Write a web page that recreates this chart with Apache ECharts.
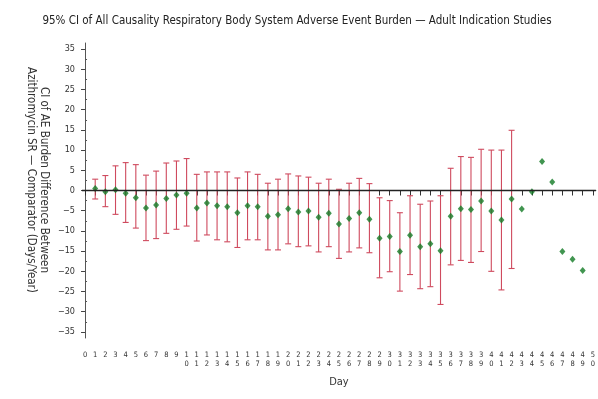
<!DOCTYPE html>
<html>
<head>
<meta charset="utf-8">
<script src="https://cdn.jsdelivr.net/npm/echarts@6/dist/echarts.min.js"></script>
<style>
  html, body { margin: 0; padding: 0; background: #fff; }
  #chart { width: 598px; height: 399px; }
</style>
</head>
<body>
<div id="chart"></div>
<script>
// Study day of each estimate
const days = [1, 2, 3, 4, 5, 6, 7, 8, 9, 10, 11, 12, 13, 14, 15, 16, 17, 18, 19, 20,
  21, 22, 23, 24, 25, 26, 27, 28, 29, 30, 31, 32, 33, 34, 35, 36, 37, 38, 39, 40,
  41, 42, 43, 44, 45, 46, 47, 48, 49];

// Point estimate of the burden difference (days/year)
const estimate = [0.5, -0.3, 0.2, -0.7, -1.8, -4.3, -3.6, -2.0, -1.1, -0.7,
  -4.3, -3.1, -3.8, -4.0, -5.5, -3.8, -4.0, -6.4, -6.0, -4.5,
  -5.3, -5.1, -6.6, -5.6, -8.3, -6.9, -5.5, -7.1, -11.8, -11.4,
  -15.1, -11.1, -13.9, -13.2, -14.9, -6.4, -4.5, -4.7, -2.6, -5.1,
  -7.3, -2.1, -4.6, -0.3, 7.2, 2.1, -15.1, -17.0, -19.8];

// 95% CI bounds (available for days 1-42)
const lower = [-2.1, -4.0, -5.9, -7.9, -9.3, -12.4, -11.9, -10.6, -9.6, -8.8,
  -12.5, -11.0, -12.2, -12.7, -14.1, -12.2, -12.2, -14.7, -14.7, -13.2,
  -13.9, -13.7, -15.2, -13.9, -16.8, -15.2, -14.2, -15.4, -21.6, -20.1,
  -24.9, -20.8, -24.3, -23.8, -28.2, -18.4, -17.3, -17.8, -15.1, -20.0,
  -24.6, -19.3];
const upper = [2.8, 3.7, 6.1, 6.9, 6.4, 3.8, 4.8, 6.8, 7.3, 7.9,
  4.0, 4.6, 4.6, 4.6, 3.1, 4.6, 4.0, 1.8, 2.8, 4.1,
  3.6, 3.3, 1.8, 2.8, 0.3, 1.8, 3.0, 1.7, -1.8, -2.5,
  -5.5, -1.3, -3.4, -2.6, -1.3, 5.5, 8.4, 8.2, 10.2, 10.0,
  10.0, 14.9];

// Axis tick positions
const dayTicks = [0, 1, 2, 3, 4, 5, 6, 7, 8, 9, 10, 11, 12, 13, 14, 15, 16, 17, 18, 19, 20,
  21, 22, 23, 24, 25, 26, 27, 28, 29, 30, 31, 32, 33, 34, 35, 36, 37, 38, 39, 40,
  41, 42, 43, 44, 45, 46, 47, 48, 49, 50];
const yMajorTicks = [-35, -30, -25, -20, -15, -10, -5, 0, 5, 10, 15, 20, 25, 30, 35];
const yMinorTicks = [-32.5, -27.5, -22.5, -17.5, -12.5, -7.5, -2.5, 2.5, 7.5, 12.5, 17.5, 22.5, 27.5, 32.5];

const FONT = '"Liberation Sans Narrow", "DejaVu Sans Condensed", "Liberation Sans", sans-serif';

const pointData = days.map((d, i) => [d, estimate[i]]);
const ciData = lower.map((lo, i) => [days[i], lo, upper[i]]);

const chart = echarts.init(document.getElementById('chart'), null, { renderer: 'canvas' });

chart.setOption({
  animation: false,
  backgroundColor: '#ffffff',
  title: {
    text: '95% CI of All Causality Respiratory Body System Adverse Event Burden \u2014 Adult Indication Studies',
    left: 292,
    textAlign: 'center',
    top: 10,
    textStyle: { fontFamily: FONT, fontSize: 11.5, fontWeight: 'normal', color: '#222' }
  },
  grid: { left: 82, right: 0, top: 43, bottom: 61 },
  xAxis: [
    {
      type: 'value',
      position: 'bottom',
      min: -0.3,
      max: 50.3,
      offset: 3,
      name: 'Day',
      nameLocation: 'middle',
      nameGap: 36,
      nameTextStyle: { fontFamily: FONT, fontSize: 11, color: '#333' },
      axisLine: { show: false },
      splitLine: { show: false },
      axisTick: {
        show: true, length: 5, customValues: dayTicks,
        lineStyle: { color: '#333', width: 1 }
      },
      axisLabel: {
        customValues: dayTicks,
        margin: 9,
        fontFamily: FONT,
        fontSize: 7.5,
        lineHeight: 9.5,
        color: '#333',
        formatter: v => String(v).split('').join('\n')
      }
    },
    {
      type: 'value',
      position: 'top',
      min: -0.3,
      max: 50.3,
      axisLine: { show: true, lineStyle: { color: '#666', width: 1 } },
      axisTick: { show: false },
      axisLabel: { show: false },
      splitLine: { show: false }
    }
  ],
  yAxis: [
    {
      type: 'value',
      min: -36.5,
      max: 36.5,
      axisLine: { show: true, lineStyle: { color: '#555', width: 1 } },
      splitLine: { show: false },
      axisTick: {
        show: true, length: 4, customValues: yMajorTicks,
        lineStyle: { color: '#444', width: 1 }
      },
      axisLabel: {
        customValues: yMajorTicks,
        margin: 7,
        fontFamily: FONT,
        fontSize: 9,
        color: '#333',
        formatter: v => (v < 0 ? '\u2212' + Math.abs(v) : String(v))
      }
    },
    {
      type: 'value',
      min: -36.5,
      max: 36.5,
      axisLine: { show: false },
      splitLine: { show: false },
      axisTick: {
        show: true, length: 2, customValues: yMinorTicks,
        lineStyle: { color: '#555', width: 1 }
      },
      axisLabel: { show: false }
    }
  ],
  graphic: [
    {
      type: 'text',
      x: 37,
      y: 180,
      rotation: -Math.PI / 2,
      style: {
        text: 'CI of AE Burden Difference Between\nAzithromycin SR \u2014 Comparator (Days/Year)',
        align: 'center',
        verticalAlign: 'middle',
        fontFamily: FONT,
        fontSize: 11.5,
        lineHeight: 13,
        fill: '#333'
      }
    }
  ],
  series: [
    {
      name: 'CI',
      type: 'custom',
      xAxisIndex: 0,
      yAxisIndex: 0,
      data: ciData,
      renderItem: function (params, api) {
        const x = api.coord([api.value(0), 0])[0];
        const yLo = api.coord([api.value(0), api.value(1)])[1];
        const yHi = api.coord([api.value(0), api.value(2)])[1];
        const cap = 3;
        const style = { stroke: '#cf4a5e', lineWidth: 1.1, fill: null };
        return {
          type: 'group',
          children: [
            { type: 'line', shape: { x1: x, y1: yHi, x2: x, y2: yLo }, style: style },
            { type: 'line', shape: { x1: x - cap, y1: yHi, x2: x + cap, y2: yHi }, style: style },
            { type: 'line', shape: { x1: x - cap, y1: yLo, x2: x + cap, y2: yLo }, style: style }
          ]
        };
      },
      markLine: {
        silent: true,
        symbol: 'none',
        label: { show: false },
        lineStyle: { color: '#222', width: 1.3, type: 'solid' },
        data: [{ yAxis: 0 }]
      },
      z: 2
    },
    {
      name: 'Estimate',
      type: 'scatter',
      xAxisIndex: 0,
      yAxisIndex: 0,
      data: pointData,
      symbol: 'diamond',
      symbolSize: [6, 7],
      itemStyle: { color: '#117a24' },
      z: 3
    }
  ]
});
</script>
</body>
</html>
